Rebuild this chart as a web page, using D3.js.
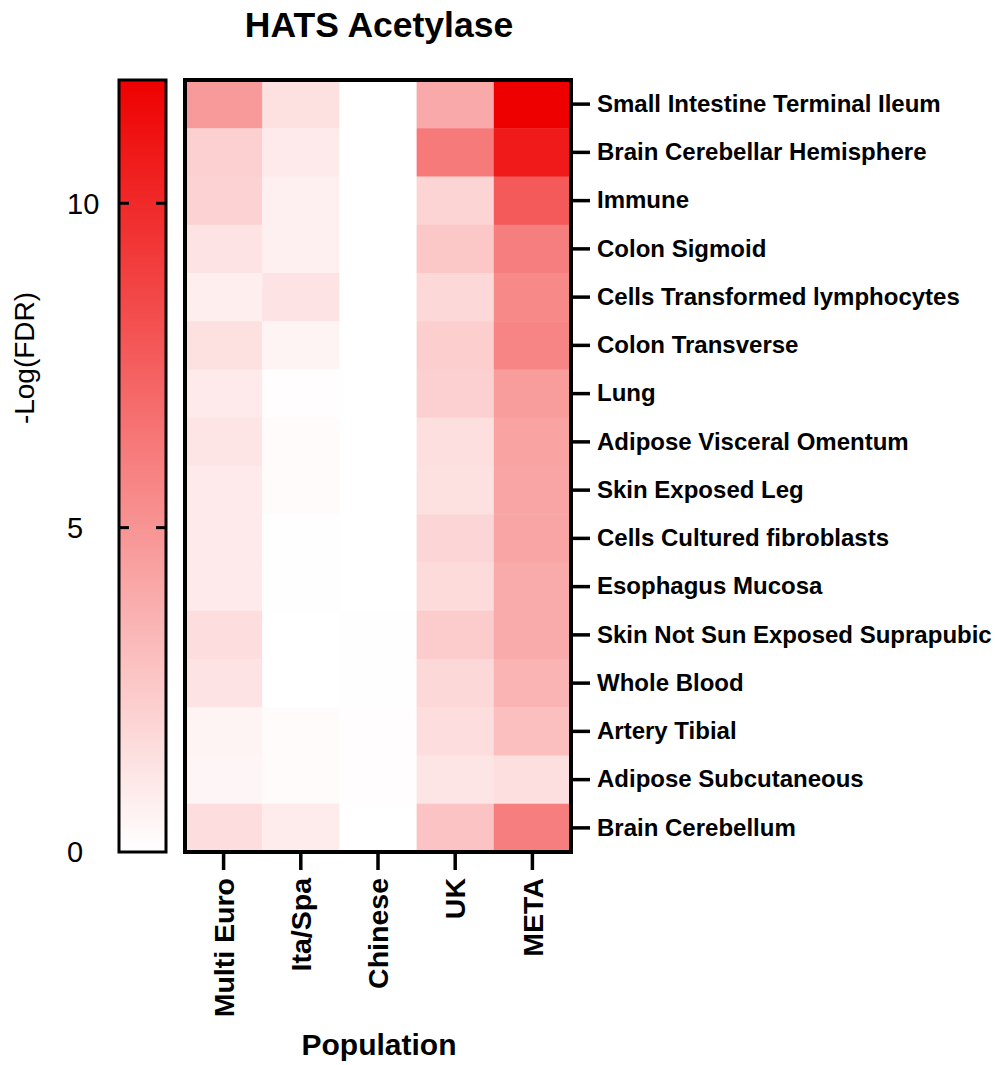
<!DOCTYPE html>
<html>
<head>
<meta charset="utf-8">
<script src="https://cdn.jsdelivr.net/npm/d3@7"></script>
<style>
  body { margin: 0; background: #fff; }
  text { font-family: "Liberation Sans", Arial, Helvetica, sans-serif; fill: #000; }
</style>
</head>
<body>
<svg id="chart" width="995" height="1065"></svg>
<script>
// tissues, top to bottom
const tissues = [
  "Small Intestine Terminal Ileum",
  "Brain Cerebellar Hemisphere",
  "Immune",
  "Colon Sigmoid",
  "Cells Transformed lymphocytes",
  "Colon Transverse",
  "Lung",
  "Adipose Visceral Omentum",
  "Skin Exposed Leg",
  "Cells Cultured fibroblasts",
  "Esophagus Mucosa",
  "Skin Not Sun Exposed Suprapubic",
  "Whole Blood",
  "Artery Tibial",
  "Adipose Subcutaneous",
  "Brain Cerebellum"
];
const populations = ["Multi Euro", "Ita/Spa", "Chinese", "UK", "META"];

// -Log(FDR) per population, same order as tissues
const multiEuro = [4.7, 2.2, 2.1, 1.3, 0.8, 1.4, 1.0, 1.2, 1.0, 1.0, 1.0, 1.6, 1.3, 0.5, 0.4, 1.6];
const itaSpa    = [1.4, 1.0, 0.7, 0.7, 1.3, 0.5, 0.1, 0.2, 0.2, 0.05, 0.05, 0.0, 0.0, 0.2, 0.2, 0.9];
const chinese   = [0.0, 0.0, 0.0, 0.0, 0.0, 0.0, 0.0, 0.0, 0.0, 0.0, 0.0, 0.05, 0.05, 0.1, 0.1, 0.0];
const uk        = [4.0, 6.2, 2.0, 2.6, 1.8, 2.3, 2.2, 1.5, 1.4, 1.9, 1.7, 2.4, 1.8, 1.6, 1.2, 2.8];
const meta      = [11.9, 10.7, 7.7, 6.0, 5.5, 5.7, 4.6, 4.3, 4.2, 4.2, 3.9, 3.9, 3.5, 3.0, 1.5, 6.0];
const series = [multiEuro, itaSpa, chinese, uk, meta];

const colorTicks = [0, 5, 10];
const colorMax = 11.9;

const svg = d3.select("#chart");

const x = d3.scaleBand().domain(populations).range([185, 571]);
const y = d3.scaleBand().domain(tissues).range([80, 852]);
const color = d3.scaleLinear().domain([0, colorMax]).range(["#ffffff", "#ee0000"]);

const cells = tissues.flatMap((t, i) => populations.map((p, j) => ({ tissue: t, pop: p, value: series[j][i] })));

// heatmap cells
svg.append("g").selectAll("rect")
  .data(cells)
  .enter()
  .append("rect")
  .attr("x", d => x(d.pop))
  .attr("y", d => y(d.tissue))
  .attr("width", x.bandwidth() + 0.5)
  .attr("height", y.bandwidth() + 0.5)
  .attr("fill", d => color(d.value));

// frame
svg.append("rect")
  .attr("x", 185).attr("y", 80)
  .attr("width", 386).attr("height", 772)
  .attr("fill", "none")
  .attr("stroke", "#000")
  .attr("stroke-width", 4);

// tissue axis on the right
const yAxis = svg.append("g")
  .attr("transform", "translate(571,0)")
  .call(d3.axisRight(y).tickSize(19).tickPadding(7));
yAxis.select(".domain").remove();
yAxis.selectAll("line").attr("stroke-width", 3.5);
yAxis.selectAll("text")
  .style("font-size", "24px")
  .style("font-weight", "bold");

// population axis at the bottom
const xAxis = svg.append("g")
  .attr("transform", "translate(0,852)")
  .call(d3.axisBottom(x).tickSize(18));
xAxis.select(".domain").remove();
xAxis.selectAll("line").attr("stroke-width", 3.5);
xAxis.selectAll("text")
  .attr("transform", "rotate(-90)")
  .attr("x", -26)
  .attr("y", 0)
  .attr("dy", "0.36em")
  .style("text-anchor", "end")
  .style("font-size", "28.5px")
  .style("font-weight", "bold");

// colour bar
const cy = d3.scaleLinear().domain([0, colorMax]).range([852, 80]);
const grad = svg.append("defs").append("linearGradient")
  .attr("id", "cbar")
  .attr("x1", 0).attr("y1", 1).attr("x2", 0).attr("y2", 0);
grad.selectAll("stop")
  .data(d3.range(0, 1.001, 0.1))
  .enter()
  .append("stop")
  .attr("offset", d => d)
  .attr("stop-color", d => color(d * colorMax));

svg.append("rect")
  .attr("x", 119).attr("y", 80)
  .attr("width", 47).attr("height", 772)
  .attr("fill", "url(#cbar)")
  .attr("stroke", "#000")
  .attr("stroke-width", 3);

// inner ticks on both sides of the colour bar
const innerTicks = colorTicks.filter(t => t > 0);
svg.append("g").selectAll("line.l")
  .data(innerTicks).enter().append("line")
  .attr("x1", 119).attr("x2", 129)
  .attr("y1", d => cy(d)).attr("y2", d => cy(d))
  .attr("stroke", "#000").attr("stroke-width", 3);
svg.append("g").selectAll("line.r")
  .data(innerTicks).enter().append("line")
  .attr("x1", 156).attr("x2", 166)
  .attr("y1", d => cy(d)).attr("y2", d => cy(d))
  .attr("stroke", "#000").attr("stroke-width", 3);

svg.append("g").selectAll("text")
  .data(colorTicks).enter().append("text")
  .attr("x", 67)
  .attr("y", d => cy(d))
  .attr("dy", "0.36em")
  .attr("text-anchor", "start")
  .style("font-size", "29px")
  .text(d => d);

// titles
svg.append("text")
  .attr("x", 379).attr("y", 37)
  .attr("text-anchor", "middle")
  .style("font-size", "35.5px")
  .style("font-weight", "bold")
  .text("HATS Acetylase");

svg.append("text")
  .attr("x", 379).attr("y", 1055)
  .attr("text-anchor", "middle")
  .style("font-size", "30px")
  .style("font-weight", "bold")
  .text("Population");

svg.append("text")
  .attr("transform", "translate(34,358) rotate(-90)")
  .attr("text-anchor", "middle")
  .style("font-size", "28px")
  .text("-Log(FDR)");
</script>
</body>
</html>
